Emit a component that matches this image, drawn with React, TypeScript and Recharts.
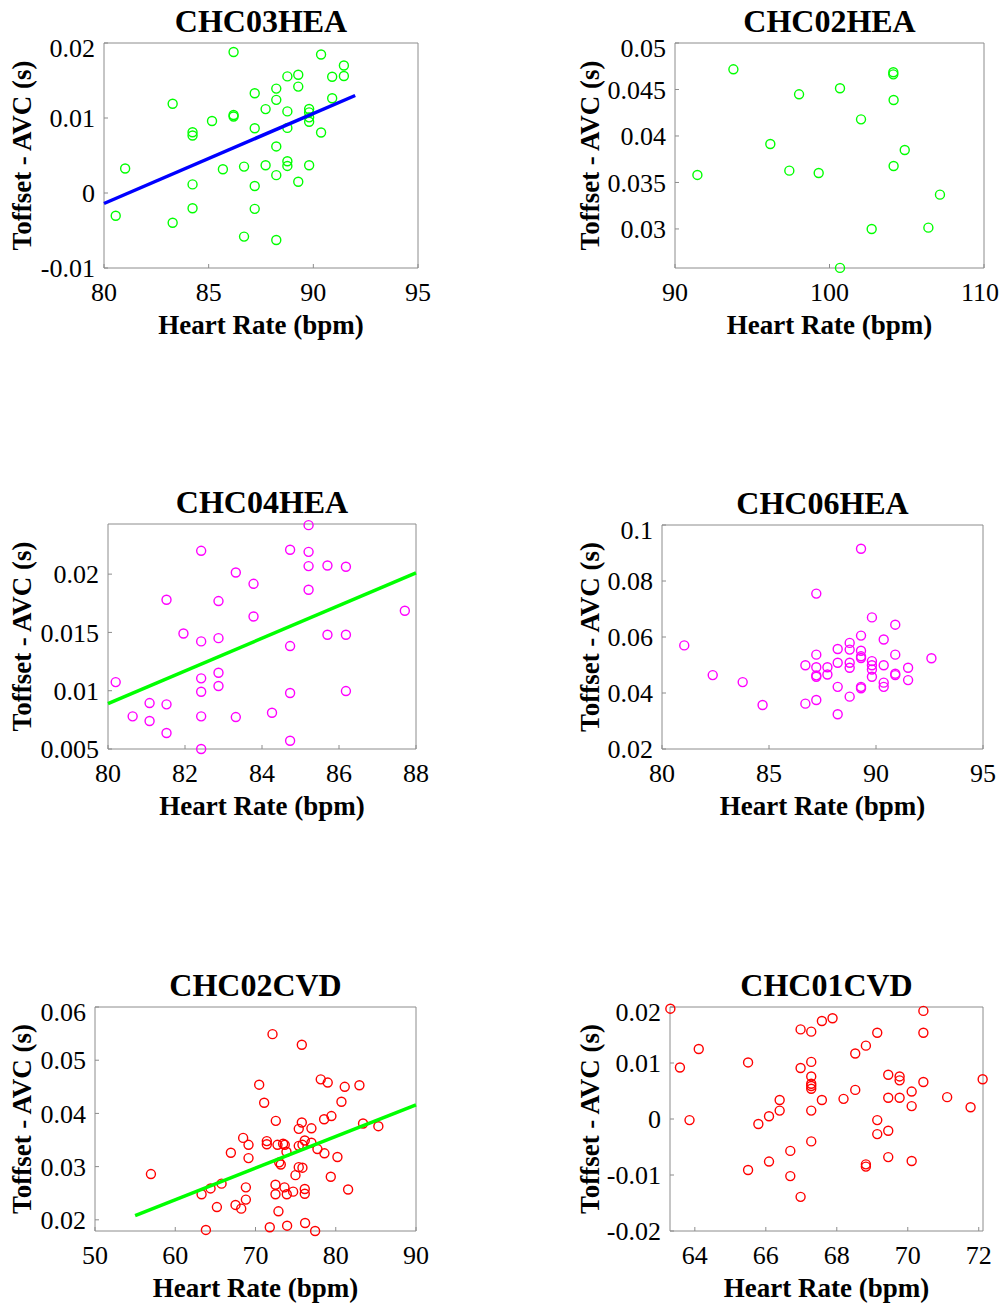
import { ScatterChart, Scatter, XAxis, YAxis } from 'recharts';

// CHC03HEA
const hea03X = [86.19, 90.37, 91.46, 91.46, 90.9, 88.76, 89.28, 89.28, 88.23, 87.2, 88.23, 90.9, 83.28, 87.72, 88.76, 89.8, 89.8, 89.8, 89.8, 86.19, 86.19, 85.16, 84.23, 84.23, 87.2, 88.76, 90.37, 88.23, 88.76, 88.76, 89.8, 87.72, 86.69, 85.68, 81.01, 88.23, 89.28, 84.23, 87.2, 80.56, 83.28, 84.23, 87.2, 86.69, 88.23];
const hea03Y = [0.0188, 0.01846, 0.017, 0.0156, 0.0155, 0.01555, 0.01577, 0.01419, 0.01392, 0.0133, 0.01242, 0.01264, 0.0119, 0.01119, 0.01088, 0.0112, 0.01075, 0.01009, 0.0095, 0.0104, 0.0102, 0.0096, 0.0081, 0.00767, 0.00863, 0.00868, 0.00806, 0.00621, 0.00423, 0.00361, 0.0037, 0.0037, 0.00352, 0.00317, 0.00326, 0.00238, 0.0015, 0.00115, 0.00093, -0.00304, -0.00396, -0.00203, -0.00211, -0.00581, -0.00626];
const hea03FitX = [80, 92];
const hea03FitY = [-0.0014, 0.013];
const hea03XTicks = [80, 85, 90, 95];
const hea03YTicks = [-0.01, 0, 0.01, 0.02];

// CHC02HEA
const hea02X = [93.78, 104.13, 104.13, 98.03, 100.68, 104.15, 102.04, 96.17, 104.87, 104.15, 97.4, 99.3, 91.45, 107.15, 102.73, 106.4, 100.68];
const hea02Y = [0.04717, 0.04685, 0.04663, 0.04448, 0.04513, 0.04387, 0.04179, 0.03914, 0.03849, 0.03677, 0.03627, 0.03602, 0.03581, 0.03369, 0.03, 0.03014, 0.02581];
const hea02XTicks = [90, 100, 110];
const hea02YTicks = [0.03, 0.035, 0.04, 0.045, 0.05];

// CHC04HEA
const hea04X = [85.21, 82.42, 84.73, 85.21, 85.21, 85.7, 86.18, 83.32, 83.78, 85.21, 81.52, 82.87, 87.71, 83.78, 81.96, 82.42, 82.87, 85.7, 86.18, 84.73, 80.2, 82.87, 82.42, 82.87, 82.42, 84.73, 86.18, 81.08, 81.52, 80.64, 81.08, 82.42, 83.32, 84.26, 81.52, 84.73, 82.42];
const hea04Y = [0.0242, 0.022, 0.02209, 0.02191, 0.02069, 0.02074, 0.02063, 0.02014, 0.01917, 0.01866, 0.0178, 0.01769, 0.01686, 0.01637, 0.01491, 0.01423, 0.01451, 0.0148, 0.0148, 0.01383, 0.01074, 0.01154, 0.01106, 0.0104, 0.00991, 0.0098, 0.00997, 0.00894, 0.00883, 0.0078, 0.0074, 0.0078, 0.00774, 0.00811, 0.00637, 0.00571, 0.005];
const hea04FitX = [80, 88];
const hea04FitY = [0.0089, 0.0201];
const hea04XTicks = [80, 82, 84, 86, 88];
const hea04YTicks = [0.005, 0.01, 0.015, 0.02];

// CHC06HEA
const hea06X = [89.3, 87.21, 89.81, 90.9, 89.3, 90.36, 81.04, 88.77, 88.77, 88.21, 89.3, 89.3, 89.3, 87.21, 90.9, 92.59, 88.21, 88.77, 88.77, 89.81, 89.81, 89.81, 89.81, 90.36, 86.7, 87.21, 87.73, 87.21, 87.21, 87.73, 90.9, 90.9, 91.5, 91.5, 90.36, 90.36, 89.3, 89.3, 88.21, 88.77, 82.37, 83.77, 84.7, 86.7, 87.21, 88.21];
const hea06Y = [0.0915, 0.0755, 0.067, 0.0644, 0.0605, 0.0591, 0.057, 0.0579, 0.0555, 0.0557, 0.0551, 0.0531, 0.0525, 0.0537, 0.0537, 0.0524, 0.0508, 0.0508, 0.049, 0.0514, 0.0499, 0.0484, 0.0458, 0.0499, 0.0499, 0.0492, 0.0492, 0.0463, 0.0458, 0.0466, 0.0469, 0.0464, 0.049, 0.0446, 0.0437, 0.0422, 0.0422, 0.0417, 0.0422, 0.0387, 0.0464, 0.0439, 0.0357, 0.0362, 0.0375, 0.0324];
const hea06XTicks = [80, 85, 90, 95];
const hea06YTicks = [0.02, 0.04, 0.06, 0.08, 0.1];

// CHC02CVD
const cvd02X = [72.12, 75.77, 78.13, 79.0, 70.46, 81.12, 82.95, 71.08, 80.71, 79.46, 78.55, 72.53, 75.77, 83.4, 85.31, 75.39, 76.97, 68.46, 69.13, 71.41, 71.41, 72.74, 73.44, 73.65, 75.39, 76.14, 76.97, 75.85, 73.86, 77.72, 78.59, 66.93, 69.13, 80.21, 72.95, 73.15, 75.39, 75.85, 74.98, 56.97, 79.38, 72.49, 73.61, 74.69, 76.14, 76.14, 73.9, 72.49, 68.8, 65.77, 64.4, 63.28, 81.54, 68.8, 67.51, 68.22, 65.19, 72.86, 76.18, 73.94, 71.78, 77.43, 63.82];
const cvd02Y = [0.0549, 0.0529, 0.0464, 0.0458, 0.0454, 0.045, 0.0453, 0.042, 0.0422, 0.0395, 0.0389, 0.0386, 0.0383, 0.0381, 0.0376, 0.0371, 0.0372, 0.0354, 0.0341, 0.0348, 0.0342, 0.0341, 0.0343, 0.0341, 0.0339, 0.0349, 0.0345, 0.0341, 0.0328, 0.0333, 0.0325, 0.0326, 0.0316, 0.0318, 0.0308, 0.0304, 0.0299, 0.0298, 0.0284, 0.0286, 0.0281, 0.0266, 0.0261, 0.0253, 0.0258, 0.0249, 0.0248, 0.0248, 0.0261, 0.0268, 0.0259, 0.0248, 0.0257, 0.0238, 0.0228, 0.0221, 0.0224, 0.0216, 0.0194, 0.0189, 0.0186, 0.0179, 0.0181];
const cvd02FitX = [55, 90];
const cvd02FitY = [0.0208, 0.0416];
const cvd02XTicks = [50, 60, 70, 80, 90];
const cvd02YTicks = [0.02, 0.03, 0.04, 0.05, 0.06];

// CHC01CVD
const cvd01X = [63.31, 70.44, 67.88, 67.58, 66.98, 67.28, 70.44, 69.14, 68.82, 68.52, 64.11, 63.58, 65.5, 67.28, 66.98, 67.28, 67.28, 67.28, 67.28, 69.45, 69.77, 69.77, 70.44, 72.11, 70.11, 68.52, 69.45, 69.77, 71.11, 71.77, 70.11, 68.19, 67.58, 66.39, 66.39, 67.28, 66.09, 65.79, 63.85, 69.14, 69.14, 69.45, 67.28, 66.69, 66.09, 65.5, 66.69, 68.82, 68.82, 69.45, 70.11, 66.98];
const cvd01Y = [0.0197, 0.0193, 0.018, 0.0175, 0.016, 0.0156, 0.0154, 0.0154, 0.0131, 0.0117, 0.0125, 0.0092, 0.0101, 0.0102, 0.0091, 0.0076, 0.0063, 0.0059, 0.0054, 0.0079, 0.0076, 0.0069, 0.0066, 0.0071, 0.0049, 0.0052, 0.0038, 0.0038, 0.0039, 0.0021, 0.0023, 0.0036, 0.0034, 0.0034, 0.0015, 0.0015, 0.0005, -0.0009, -0.0002, -0.0002, -0.0027, -0.0021, -0.004, -0.0057, -0.0076, -0.0091, -0.0102, -0.0081, -0.0085, -0.0068, -0.0075, -0.0139];
const cvd01XTicks = [64, 66, 68, 70, 72];
const cvd01YTicks = [-0.02, -0.01, 0, 0.01, 0.02];

const SERIF = '"Liberation Serif", "Times New Roman", serif';
const BOX = '#8c8c8c';
const Y_AXIS_W = 110;
const X_AXIS_H = 80;
const M_TOP = 10;
const M_RIGHT = 15;

const toPoints = (xs: number[], ys: number[]) => xs.map((x, i) => ({ x, y: ys[i] }));

type Panel = {
  title: string;
  left: number;
  top: number;
  w: number;
  h: number;
  xDomain: [number, number];
  yDomain: [number, number];
  xTicks: number[];
  yTicks: number[];
  xs: number[];
  ys: number[];
  color: string;
  fitX?: number[];
  fitY?: number[];
  fitColor?: string;
  yLabelDist: number;
};

const panels: Panel[] = [
  { title: 'CHC03HEA', left: 104, top: 43, w: 314, h: 225, xDomain: [80, 95], yDomain: [-0.01, 0.02], xTicks: hea03XTicks, yTicks: hea03YTicks, xs: hea03X, ys: hea03Y, color: '#00ff00', fitX: hea03FitX, fitY: hea03FitY, fitColor: '#0000ff', yLabelDist: 82 },
  { title: 'CHC02HEA', left: 675, top: 43, w: 309, h: 225, xDomain: [90, 110], yDomain: [0.0258, 0.05], xTicks: hea02XTicks, yTicks: hea02YTicks, xs: hea02X, ys: hea02Y, color: '#00ff00', yLabelDist: 85 },
  { title: 'CHC04HEA', left: 108, top: 524, w: 308, h: 225, xDomain: [80, 88], yDomain: [0.005, 0.0243], xTicks: hea04XTicks, yTicks: hea04YTicks, xs: hea04X, ys: hea04Y, color: '#ff00ff', fitX: hea04FitX, fitY: hea04FitY, fitColor: '#00ff00', yLabelDist: 86 },
  { title: 'CHC06HEA', left: 662, top: 525, w: 321, h: 224, xDomain: [80, 95], yDomain: [0.02, 0.1], xTicks: hea06XTicks, yTicks: hea06YTicks, xs: hea06X, ys: hea06Y, color: '#ff00ff', yLabelDist: 72 },
  { title: 'CHC02CVD', left: 95, top: 1007, w: 321, h: 224, xDomain: [50, 90], yDomain: [0.0179, 0.06], xTicks: cvd02XTicks, yTicks: cvd02YTicks, xs: cvd02X, ys: cvd02Y, color: '#ff0000', fitX: cvd02FitX, fitY: cvd02FitY, fitColor: '#00ff00', yLabelDist: 73 },
  { title: 'CHC01CVD', left: 670, top: 1007, w: 313, h: 224, xDomain: [63.3, 72.12], yDomain: [-0.02, 0.02], xTicks: cvd01XTicks, yTicks: cvd01YTicks, xs: cvd01X, ys: cvd01Y, color: '#ff0000', yLabelDist: 80 },
];

const tickStyle = { fontSize: 26, fill: '#000', fontFamily: SERIF };

const Ring = (color: string) => (props: any) => (
  <circle cx={props.cx} cy={props.cy} r={4.5} fill="none" stroke={color} strokeWidth={1.4} />
);

const YLabel = (dist: number) => (props: any) => {
  const vb = props.viewBox || {};
  const cx = vb.x + vb.width - dist;
  const cy = vb.y + vb.height / 2;
  return (
    <text x={cx} y={cy} transform={`rotate(-90 ${cx} ${cy})`} textAnchor="middle" dominantBaseline="central" fontFamily={SERIF} fontWeight="bold" fontSize={27} fill="#000">
      Toffset - AVC (s)
    </text>
  );
};

const XLabel = (props: any) => {
  const vb = props.viewBox || {};
  return (
    <text x={vb.x + vb.width / 2} y={vb.y + 57} textAnchor="middle" dominantBaseline="central" fontFamily={SERIF} fontWeight="bold" fontSize={27} fill="#000">
      Heart Rate (bpm)
    </text>
  );
};

const PanelChart = ({ p }: { p: Panel }) => {
  const pts = toPoints(p.xs, p.ys);
  const fit = p.fitX && p.fitY ? toPoints(p.fitX, p.fitY) : null;
  return (
    <>
      <div
        style={{
          position: 'absolute',
          left: p.left,
          top: p.top - 39,
          width: p.w,
          textAlign: 'center',
          fontFamily: SERIF,
          fontWeight: 'bold',
          fontSize: 32,
          lineHeight: '34px',
        }}
      >
        {p.title}
      </div>
      <div style={{ position: 'absolute', left: p.left - Y_AXIS_W, top: p.top - M_TOP }}>
        <ScatterChart
          width={p.w + Y_AXIS_W + M_RIGHT}
          height={p.h + M_TOP + X_AXIS_H}
          margin={{ top: M_TOP - 1, right: M_RIGHT - 1, bottom: 0, left: 0 }}
        >
          <XAxis
            dataKey="x"
            type="number"
            domain={p.xDomain}
            ticks={p.xTicks}
            height={X_AXIS_H}
            stroke={BOX}
            tickSize={-4}
            tickMargin={19}
            tick={tickStyle}
            label={{ content: XLabel }}
          />
          <XAxis xAxisId="top" orientation="top" type="number" domain={p.xDomain} ticks={p.xTicks} height={1} stroke={BOX} tickSize={-4} tickFormatter={() => ''} />
          <YAxis
            dataKey="y"
            type="number"
            domain={p.yDomain}
            ticks={p.yTicks}
            width={Y_AXIS_W}
            stroke={BOX}
            tickSize={-4}
            tickMargin={13}
            tick={tickStyle}
            label={{ content: YLabel(p.yLabelDist) }}
          />
          <YAxis yAxisId="right" orientation="right" type="number" domain={p.yDomain} ticks={p.yTicks} width={1} stroke={BOX} tickSize={-4} tickFormatter={() => ''} />
          <Scatter data={pts} shape={Ring(p.color)} isAnimationActive={false} />
          {fit && (
            <Scatter
              data={fit}
              line={{ stroke: p.fitColor, strokeWidth: 3.5 }}
              shape={() => <g />}
              isAnimationActive={false}
            />
          )}
        </ScatterChart>
      </div>
    </>
  );
};

export default function App() {
  return (
    <div style={{ position: 'absolute', left: 0, top: 0, width: 1007, height: 1304, background: '#fff' }}>
      {panels.map((p) => (
        <PanelChart key={p.title} p={p} />
      ))}
    </div>
  );
}
